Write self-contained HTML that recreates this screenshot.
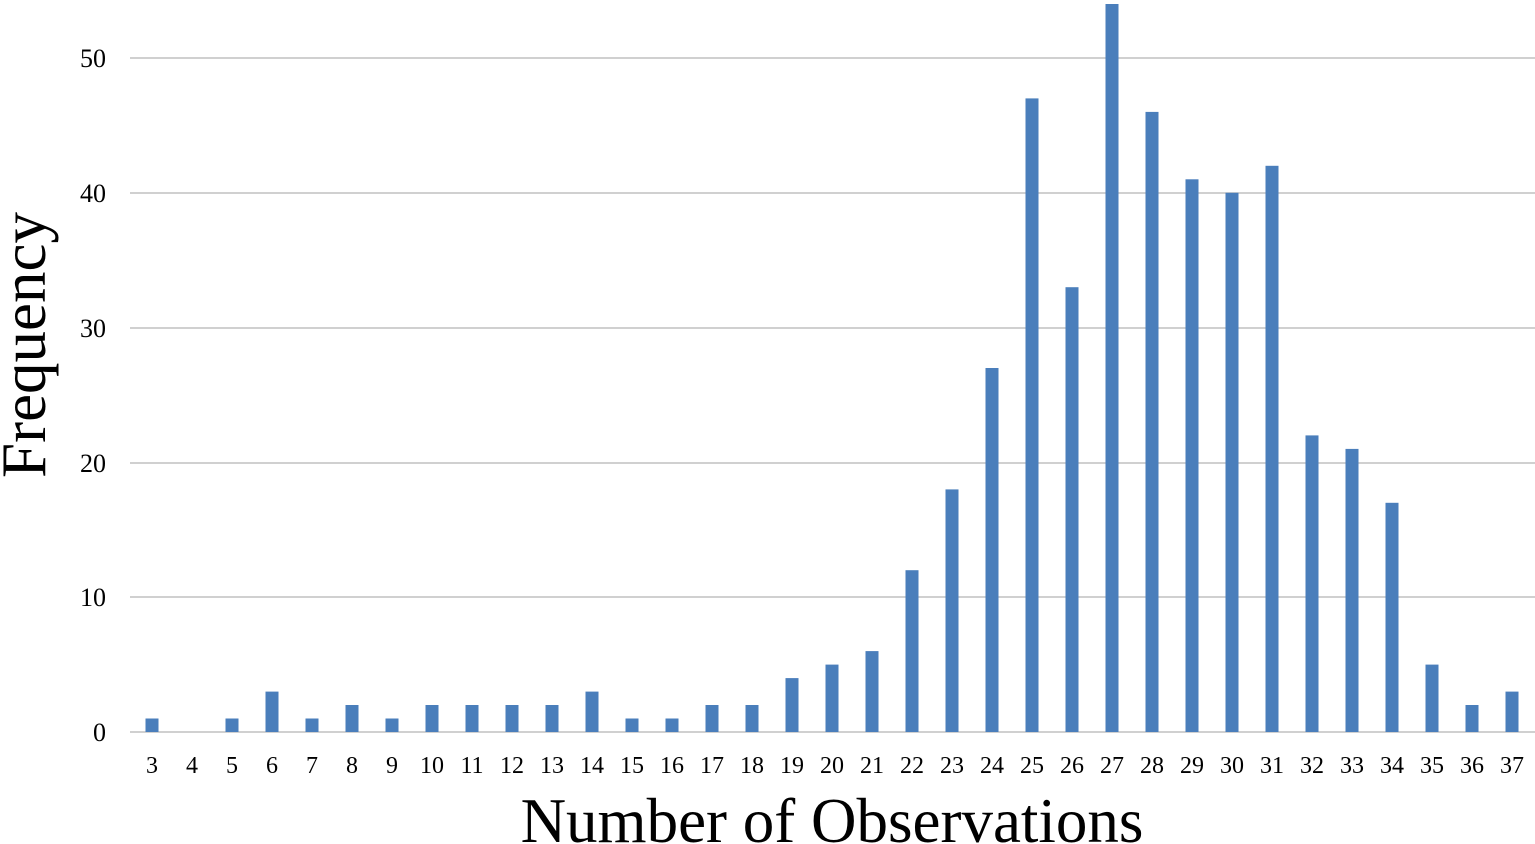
<!DOCTYPE html>
<html><head><meta charset="utf-8"><style>
html,body{margin:0;padding:0;background:#fff;}
svg{display:block;}
text{font-family:"Liberation Serif",serif;fill:#000;}
</style></head><body>
<svg width="1535" height="844" viewBox="0 0 1535 844" xmlns="http://www.w3.org/2000/svg">
<g stroke="#d0d0d0" stroke-width="2">
<line x1="130" x2="1535" y1="58" y2="58"/>
<line x1="130" x2="1535" y1="193" y2="193"/>
<line x1="130" x2="1535" y1="328" y2="328"/>
<line x1="130" x2="1535" y1="463" y2="463"/>
<line x1="130" x2="1535" y1="597" y2="597"/>
<line x1="130" x2="1535" y1="732" y2="732"/>
</g>
<g font-size="26" text-anchor="end">
<text x="106" y="67">50</text>
<text x="106" y="202">40</text>
<text x="106" y="337">30</text>
<text x="106" y="472">20</text>
<text x="106" y="606">10</text>
<text x="106" y="741">0</text>
</g>
<g fill="#4a7ebb">
<rect x="145.5" y="718.5" width="13" height="13.5"/>
<rect x="225.5" y="718.5" width="13" height="13.5"/>
<rect x="265.5" y="691.6" width="13" height="40.4"/>
<rect x="305.5" y="718.5" width="13" height="13.5"/>
<rect x="345.5" y="705" width="13" height="27"/>
<rect x="385.5" y="718.5" width="13" height="13.5"/>
<rect x="425.5" y="705" width="13" height="27"/>
<rect x="465.5" y="705" width="13" height="27"/>
<rect x="505.5" y="705" width="13" height="27"/>
<rect x="545.5" y="705" width="13" height="27"/>
<rect x="585.5" y="691.6" width="13" height="40.4"/>
<rect x="625.5" y="718.5" width="13" height="13.5"/>
<rect x="665.5" y="718.5" width="13" height="13.5"/>
<rect x="705.5" y="705" width="13" height="27"/>
<rect x="745.5" y="705" width="13" height="27"/>
<rect x="785.5" y="678.1" width="13" height="53.9"/>
<rect x="825.5" y="664.6" width="13" height="67.4"/>
<rect x="865.5" y="651.1" width="13" height="80.9"/>
<rect x="905.5" y="570.2" width="13" height="161.8"/>
<rect x="945.5" y="489.4" width="13" height="242.6"/>
<rect x="985.5" y="368" width="13" height="364"/>
<rect x="1025.5" y="98.4" width="13" height="633.6"/>
<rect x="1065.5" y="287.2" width="13" height="444.8"/>
<rect x="1105.5" y="4" width="13" height="728"/>
<rect x="1145.5" y="111.9" width="13" height="620.1"/>
<rect x="1185.5" y="179.3" width="13" height="552.7"/>
<rect x="1225.5" y="192.8" width="13" height="539.2"/>
<rect x="1265.5" y="165.8" width="13" height="566.2"/>
<rect x="1305.5" y="435.4" width="13" height="296.6"/>
<rect x="1345.5" y="448.9" width="13" height="283.1"/>
<rect x="1385.5" y="502.8" width="13" height="229.2"/>
<rect x="1425.5" y="664.6" width="13" height="67.4"/>
<rect x="1465.5" y="705" width="13" height="27"/>
<rect x="1505.5" y="691.6" width="13" height="40.4"/>
</g>
<g font-size="24" text-anchor="middle">
<text x="152" y="773">3</text><text x="192" y="773">4</text><text x="232" y="773">5</text><text x="272" y="773">6</text><text x="312" y="773">7</text><text x="352" y="773">8</text><text x="392" y="773">9</text><text x="432" y="773">10</text><text x="472" y="773">11</text><text x="512" y="773">12</text><text x="552" y="773">13</text><text x="592" y="773">14</text><text x="632" y="773">15</text><text x="672" y="773">16</text><text x="712" y="773">17</text><text x="752" y="773">18</text><text x="792" y="773">19</text><text x="832" y="773">20</text><text x="872" y="773">21</text><text x="912" y="773">22</text><text x="952" y="773">23</text><text x="992" y="773">24</text><text x="1032" y="773">25</text><text x="1072" y="773">26</text><text x="1112" y="773">27</text><text x="1152" y="773">28</text><text x="1192" y="773">29</text><text x="1232" y="773">30</text><text x="1272" y="773">31</text><text x="1312" y="773">32</text><text x="1352" y="773">33</text><text x="1392" y="773">34</text><text x="1432" y="773">35</text><text x="1472" y="773">36</text><text x="1512" y="773">37</text>
</g>
<text x="832" y="842" font-size="63" text-anchor="middle">Number of Observations</text>
<text transform="translate(45,345) rotate(-90)" font-size="63" text-anchor="middle">Frequency</text>
</svg>
</body></html>
